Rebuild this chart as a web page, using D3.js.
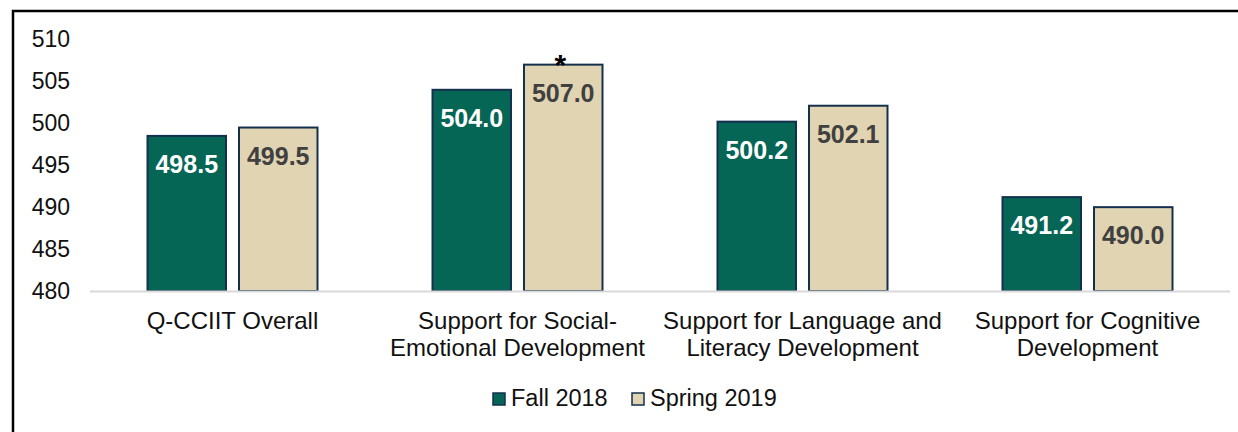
<!DOCTYPE html>
<html>
<head>
<meta charset="utf-8">
<script src="https://cdn.jsdelivr.net/npm/d3@7"></script>
<style>
  body { margin: 0; background: #fff; }
  svg { display: block; font-family: "Liberation Sans", Arial, sans-serif; }
</style>
</head>
<body>
<div id="chart"></div>
<script>
var width = 1238,
    height = 432;

// chart data
var categories = [
  ["Q-CCIIT Overall"],
  ["Support for Social-", "Emotional Development"],
  ["Support for Language and", "Literacy Development"],
  ["Support for Cognitive", "Development"]
];
var seriesNames = ["Fall 2018", "Spring 2019"];
var fall2018 = [498.5, 504.0, 500.2, 491.2];
var spring2019 = [499.5, 507.0, 502.1, 490.0];
var spring2019Marks = ["", "*", "", ""];
var yTicks = [480, 485, 490, 495, 500, 505, 510];

var color = ["#066656", "#e0d4b2"];
var labelColor = ["#ffffff", "#404040"];

var svg = d3.select("#chart").append("svg")
    .attr("width", width)
    .attr("height", height);

// frame around the chart
svg.append("rect")
    .attr("x", 13)
    .attr("y", 11)
    .attr("width", width + 20)
    .attr("height", height + 20)
    .attr("fill", "none")
    .attr("stroke", "#000")
    .attr("stroke-width", 2.5);

var keys = categories.map(function(d) { return d.join(" "); });

var x0 = d3.scaleBand()
    .domain(keys)
    .range([90, 1230]);

var x1 = d3.scaleBand()
    .domain(seriesNames)
    .range([x0.bandwidth() / 2 - 85, x0.bandwidth() / 2 + 85])
    .paddingInner(0.142);

var y = d3.scaleLinear()
    .domain([480, 510])
    .range([291, 39.5]);

var values = [fall2018, spring2019];

// y axis labels only
var yAxis = svg.append("g")
    .attr("transform", "translate(70,0)")
    .call(d3.axisLeft(y).tickValues(yTicks).tickSize(0).tickPadding(0));
yAxis.select(".domain").remove();
yAxis.selectAll("text")
    .attr("font-family", "Liberation Sans, Arial, sans-serif")
    .attr("font-size", 23)
    .attr("fill", "#111");

var groups = svg.selectAll("g.group")
    .data(keys)
    .enter().append("g")
    .attr("class", "group")
    .attr("transform", function(d) { return "translate(" + x0(d) + ",0)"; });

seriesNames.forEach(function(s, si) {
    groups.append("rect")
        .attr("x", x1(s))
        .attr("y", function(d, i) { return y(values[si][i]); })
        .attr("width", x1.bandwidth())
        .attr("height", function(d, i) { return y(480) - y(values[si][i]); })
        .attr("fill", color[si])
        .attr("stroke", "#15304f")
        .attr("stroke-width", 2);

    groups.append("text")
        .attr("x", x1(s) + x1.bandwidth() / 2)
        .attr("y", function(d, i) { return y(values[si][i]) + 37; })
        .attr("text-anchor", "middle")
        .attr("font-size", 25)
        .attr("font-weight", "bold")
        .attr("fill", labelColor[si])
        .text(function(d, i) { return values[si][i].toFixed(1); });
});

// significance mark
groups.append("text")
    .attr("x", x1("Spring 2019") + x1.bandwidth() / 2 - 3)
    .attr("y", function(d, i) { return y(spring2019[i]) + 10; })
    .attr("text-anchor", "middle")
    .attr("font-size", 30)
    .attr("font-weight", "bold")
    .attr("fill", "#000")
    .text(function(d, i) { return spring2019Marks[i]; });

// baseline
svg.append("line")
    .attr("x1", 90)
    .attr("x2", 1230)
    .attr("y1", y(480) + 0.5)
    .attr("y2", y(480) + 0.5)
    .attr("stroke", "#d9d9d9")
    .attr("stroke-width", 2);

// category labels
groups.each(function(d, i) {
    var t = d3.select(this).append("text")
        .attr("text-anchor", "middle")
        .attr("font-size", 24)
        .attr("fill", "#111");
    categories[i].forEach(function(line, j) {
        t.append("tspan")
            .attr("x", x0.bandwidth() / 2)
            .attr("y", 329 + j * 27)
            .text(line);
    });
});

// legend
var legend = svg.selectAll("g.legend")
    .data(seriesNames)
    .enter().append("g")
    .attr("class", "legend")
    .attr("transform", function(d, i) { return "translate(" + (493 + i * 139) + ",393)"; });

legend.append("rect")
    .attr("width", 12)
    .attr("height", 12)
    .attr("fill", function(d, i) { return color[i]; })
    .attr("stroke", "#15304f")
    .attr("stroke-width", 1.5);

legend.append("text")
    .attr("x", 18)
    .attr("y", 13)
    .attr("font-size", 23.5)
    .attr("fill", "#111")
    .text(function(d) { return d; });
</script>
</body>
</html>
